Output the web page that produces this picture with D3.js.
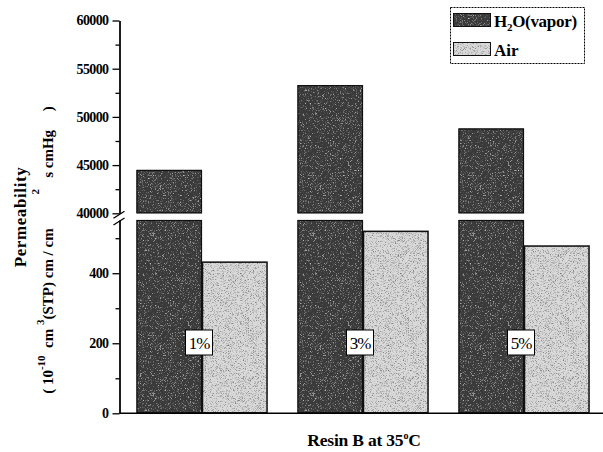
<!DOCTYPE html>
<html>
<head>
<meta charset="utf-8">
<script src="https://cdn.jsdelivr.net/npm/d3@7/dist/d3.min.js"></script>
<style>
  html, body { margin: 0; padding: 0; background: #fff; }
  svg { display: block; }
  text { font-family: "Liberation Serif", "DejaVu Serif", serif; fill: #000; }
</style>
</head>
<body>
<svg id="chart" width="603" height="452"></svg>
<script>
// ---- data ----
const categories = ["1%", "3%", "5%"];
const seriesNames = ["H\u2082O(vapor)", "Air"];
const h2oValues = [44500, 53300, 48800];
const airValues = [433, 521, 479];
const upperTicks = [40000, 45000, 50000, 55000, 60000];
const upperMinor = [42500, 47500, 52500, 57500];
const lowerTicks = [0, 200, 400];
const lowerMinor = [100, 300, 500];

const svg = d3.select("#chart");

// ---- noise filters for textured fills ----
const defs = svg.append("defs");
function noiseFilter(id, seed, speckColor, slope, intercept, freq) {
  const f = defs.append("filter").attr("id", id)
    .attr("x", 0).attr("y", 0).attr("width", 1).attr("height", 1)
    .attr("color-interpolation-filters", "sRGB");
  f.append("feTurbulence").attr("type", "fractalNoise")
    .attr("baseFrequency", freq).attr("numOctaves", 1).attr("seed", seed).attr("result", "n");
  f.append("feColorMatrix").attr("in", "n").attr("type", "matrix")
    .attr("values", `0 0 0 0 ${speckColor}  0 0 0 0 ${speckColor}  0 0 0 0 ${speckColor}  ${slope} 0 0 0 ${intercept}`)
    .attr("result", "s");
  f.append("feComposite").attr("in", "s").attr("in2", "SourceAlpha").attr("operator", "in").attr("result", "sc");
  const m = f.append("feMerge");
  m.append("feMergeNode").attr("in", "SourceGraphic");
  m.append("feMergeNode").attr("in", "sc");
}
noiseFilter("noiseDark", 3, 0.85, 3.2, -1.75, 1.6);
noiseFilter("noiseLight", 7, 0.45, 3.2, -1.6, 1.6);

const colors = { h2o: "#3a3a3a", air: "#d9d9d9" };

// ---- scales ----
const x0 = d3.scaleBand().domain(categories).range([121.5, 604.5])
  .paddingInner(0.186).paddingOuter(0.093);
const x1 = d3.scaleBand().domain(seriesNames).range([0, x0.bandwidth()]).padding(0);
const yHigh = d3.scaleLinear().domain([40000, 60000]).range([213.3, 20.5]);
const yLow = d3.scaleLinear().domain([0, 552]).range([413.3, 220]).clamp(true);

const axisX = 119.5;

// ---- bars ----
const barsG = svg.append("g");
function bar(xp, y0, y1, fill, filt, sw) {
  barsG.append("rect").attr("x", xp).attr("y", y0).attr("width", x1.bandwidth())
    .attr("height", y1 - y0).attr("fill", fill).attr("filter", filt);
  barsG.append("rect").attr("x", xp + 0.5).attr("y", y0 + 0.5).attr("width", x1.bandwidth() - 1)
    .attr("height", y1 - y0 - 1).attr("fill", "none").attr("stroke", "#111").attr("stroke-width", sw);
}
categories.forEach((c, i) => {
  const gx = x0(c);
  const hx = gx + x1(seriesNames[0]);
  bar(hx, yLow(h2oValues[i]), yLow(0), colors.h2o, "url(#noiseDark)", 1.2);
  bar(hx, yHigh(h2oValues[i]), yHigh(40000), colors.h2o, "url(#noiseDark)", 1.2);
  const ax = gx + x1(seriesNames[1]);
  bar(ax, yLow(airValues[i]), yLow(0), colors.air, "url(#noiseLight)", 1.5);
  // category label box
  const cx = gx + x0.bandwidth() / 2 - 3;
  const cy = 342.5;
  barsG.append("rect").attr("x", cx - 13.5).attr("y", cy - 12.5).attr("width", 27).attr("height", 25)
    .attr("fill", "#fff").attr("stroke", "#000").attr("stroke-width", 1);
  barsG.append("text").attr("x", cx).attr("y", cy + 6).attr("text-anchor", "middle")
    .attr("font-size", 17).attr("letter-spacing", -1).text(c);
});

// ---- axes ----
function styleAxis(g) {
  g.selectAll("text").attr("font-family", "Liberation Serif, serif").attr("font-size", 14)
    .attr("font-weight", "bold").attr("fill", "#000").attr("letter-spacing", -0.6);
  g.selectAll("line").attr("stroke", "#000").attr("stroke-width", 1.3);
  g.select(".domain").attr("stroke", "#000").attr("stroke-width", 1.3);
}
const gUp = svg.append("g").attr("transform", `translate(${axisX},0)`)
  .call(d3.axisLeft(yHigh).tickValues(upperTicks).tickSize(7).tickSizeOuter(0).tickPadding(4).tickFormat(d3.format("d")));
styleAxis(gUp);
const gUpMinor = svg.append("g").attr("transform", `translate(${axisX},0)`)
  .call(d3.axisLeft(yHigh).tickValues(upperMinor).tickSize(4).tickSizeOuter(0).tickFormat(""));
styleAxis(gUpMinor);

const gLow = svg.append("g").attr("transform", `translate(${axisX},0)`)
  .call(d3.axisLeft(yLow).tickValues(lowerTicks).tickSize(7).tickSizeOuter(0).tickPadding(4).tickFormat(d3.format("d")));
styleAxis(gLow);
const gLowMinor = svg.append("g").attr("transform", `translate(${axisX},0)`)
  .call(d3.axisLeft(yLow).tickValues(lowerMinor).tickSize(4).tickSizeOuter(0).tickFormat(""));
styleAxis(gLowMinor);

// x axis baseline (no ticks)
svg.append("line").attr("x1", axisX).attr("x2", 603).attr("y1", yLow(0)).attr("y2", yLow(0))
  .attr("stroke", "#000").attr("stroke-width", 1.4);

// break marks
const bGap = svg.append("g").attr("stroke", "#000").attr("stroke-width", 1.3);
bGap.append("line").attr("x1", axisX - 6).attr("y1", yHigh(40000) + 5).attr("x2", axisX + 5).attr("y2", yHigh(40000) - 2);
bGap.append("line").attr("x1", axisX - 6).attr("y1", yLow.range()[1] + 5).attr("x2", axisX + 5).attr("y2", yLow.range()[1] - 2);

// ---- axis titles ----
const yt = svg.append("g").attr("transform", "translate(26,217) rotate(-90)");
yt.append("text").attr("x", 0).attr("y", 0).attr("text-anchor", "middle")
  .attr("font-size", 17).attr("font-weight", "bold").attr("letter-spacing", 0.6).text("Permeability");
const yt2 = svg.append("g").attr("transform", "translate(53,250) rotate(-90)");
const t2 = yt2.append("text").attr("x", 0).attr("y", 0).attr("text-anchor", "middle")
  .attr("font-size", 15).attr("font-weight", "bold").attr("xml:space", "preserve");
t2.append("tspan").text("( 10");
t2.append("tspan").attr("dy", -8).attr("font-size", 11).text("-10");
t2.append("tspan").attr("dy", 8).text("  cm ");
t2.append("tspan").attr("dy", -9).attr("font-size", 11).text("3");
t2.append("tspan").attr("dy", 9).text("(STP) cm / cm         ");
t2.append("tspan").attr("dy", -14).attr("font-size", 11).text("2");
t2.append("tspan").attr("dy", 14).text("   s cmHg     )");

const xt = svg.append("text").attr("x", 364).attr("y", 446).attr("text-anchor", "middle")
  .attr("font-size", 17.5).attr("font-weight", "bold").attr("letter-spacing", -0.2);
xt.append("tspan").text("Resin B at 35");
xt.append("tspan").attr("dy", -7).attr("font-size", 10).text("o");
xt.append("tspan").attr("dy", 7).text("C");

// ---- legend ----
const lg = svg.append("g");
lg.append("rect").attr("x", 450.5).attr("y", 7.5).attr("width", 134).attr("height", 56)
  .attr("fill", "#fff").attr("stroke", "#000").attr("stroke-width", 1).attr("stroke-dasharray", "2,1");
const legendItems = [
  { name: seriesNames[0], color: colors.h2o, filter: "url(#noiseDark)" },
  { name: seriesNames[1], color: colors.air, filter: "url(#noiseLight)" }
];
legendItems.forEach((d, i) => {
  const y = 13 + i * 29;
  lg.append("rect").attr("x", 453).attr("y", y).attr("width", 38).attr("height", 14)
    .attr("fill", d.color).attr("filter", d.filter);
  lg.append("rect").attr("x", 453.5).attr("y", y + 0.5).attr("width", 37).attr("height", 13)
    .attr("fill", "none").attr("stroke", "#111").attr("stroke-width", 1);
});
const l1 = lg.append("text").attr("x", 494).attr("y", 27).attr("font-size", 17).attr("font-weight", "bold").attr("letter-spacing", -0.3);
l1.append("tspan").text("H");
l1.append("tspan").attr("dy", 4).attr("font-size", 11).text("2");
l1.append("tspan").attr("dy", -4).text("O(vapor)");
lg.append("text").attr("x", 494).attr("y", 56).attr("font-size", 17).attr("font-weight", "bold").text(seriesNames[1]);
</script>
</body>
</html>
